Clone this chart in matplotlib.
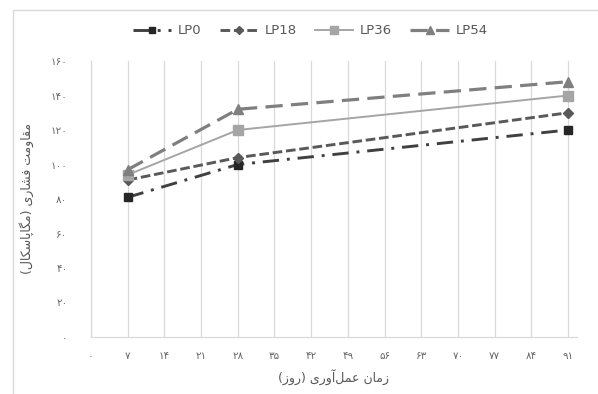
import matplotlib
matplotlib.use("Agg")
import matplotlib.pyplot as plt
from matplotlib.patches import Rectangle

# curing age (days) and compressive strength (MPa) per mix
days = [7, 28, 91]
lp0 = [81, 100, 120]
lp18 = [91, 104, 130]
lp36 = [94, 120, 140]
lp54 = [97, 132, 148]
series_names = ["LP0", "LP18", "LP36", "LP54"]
x_ticks = list(range(0, 92, 7))
y_ticks = list(range(0, 161, 20))

FA_DIGITS = str.maketrans("0123456789", "۰۱۲۳۴۵۶۷۸۹")


def fa(n):
    return str(n).translate(FA_DIGITS)


# axis titles, pre-shaped (presentation forms) and laid out in visual order
# logical: "زمان عمل‌آوری (روز)"
x_title = ("(\uFEAF\uFEED\uFEAD) "
           "\uFBFC\uFEAD\uFEED\uFE81\uFEDE\uFEE4\uFECB "
           "\uFEE5\uFE8E\uFEE3\uFEAF")
# logical: "مقاومت فشاری (مگاپاسکال)"
y_title = ("(\uFEDD\uFE8E\uFB91\uFEB3\uFE8E\uFB58\uFE8E\uFB95\uFEE3) "
           "\uFBFC\uFEAD\uFE8E\uFEB8\uFED3 "
           "\uFE96\uFEE3\uFEED\uFE8E\uFED8\uFEE3")

TXT = "#595959"
GRID = "#D9D9D9"

fig = plt.figure(figsize=(5.98, 3.94), dpi=100)
ax = fig.add_axes([91 / 598, 57 / 394, 486 / 598, 276 / 394])

styles = [
    dict(color="#404040", ls=(0, (5.6, 2.7, 1, 2.7)), lw=2.1, marker="s", ms=5.5,
         mfc="#262626", mec="#262626"),
    dict(color="#595959", ls=(0, (3.3, 1.3)), lw=2.1, marker="D", ms=5,
         mfc="#595959", mec="#595959"),
    dict(color="#A5A5A5", ls="-", lw=1.4, marker="s", ms=7.5,
         mfc="#A5A5A5", mec="#A5A5A5"),
    dict(color="#7F7F7F", ls=(0, (5.4, 2.6)), lw=2.3, marker="^", ms=7,
         mfc="#7F7F7F", mec="#7F7F7F"),
]
for vals, name, st in zip([lp0, lp18, lp36, lp54], series_names, styles):
    ax.plot(days, vals, label=name, zorder=3, **st)

ax.set_xlim(0, 92.7)
ax.set_ylim(0, 160)
ax.set_xticks(x_ticks)
ax.set_xticklabels([fa(t) for t in x_ticks])
ax.set_yticks(y_ticks)
ax.set_yticklabels([fa(t) for t in y_ticks])
ax.tick_params(length=0, labelsize=7.5, labelcolor="#666666")
ax.tick_params(axis="x", pad=10)
ax.tick_params(axis="y", pad=17)
ax.xaxis.grid(True, color=GRID, lw=0.9)
for s in ("top", "right"):
    ax.spines[s].set_visible(False)
for s in ("left", "bottom"):
    ax.spines[s].set_color(GRID)
    ax.spines[s].set_linewidth(0.9)

ax.set_xlabel(x_title, fontsize=9, color=TXT, labelpad=6)
ax.set_ylabel(y_title, fontsize=9, color=TXT, labelpad=12)

fig.legend(loc="center", bbox_to_anchor=(310 / 598, 1 - 31 / 394), ncol=4,
           frameon=False, fontsize=9.5, labelcolor=TXT, handlelength=2.9,
           handletextpad=0.5, columnspacing=1.4, markerscale=0.85)

# outer chart border (top and left edges visible)
fig.patches.append(Rectangle((13 / 598, -0.1), 1.2, 1.1 - 10 / 394,
                             transform=fig.transFigure, fill=False,
                             ec=GRID, lw=1.0))

fig.savefig("out.png", dpi=100)
